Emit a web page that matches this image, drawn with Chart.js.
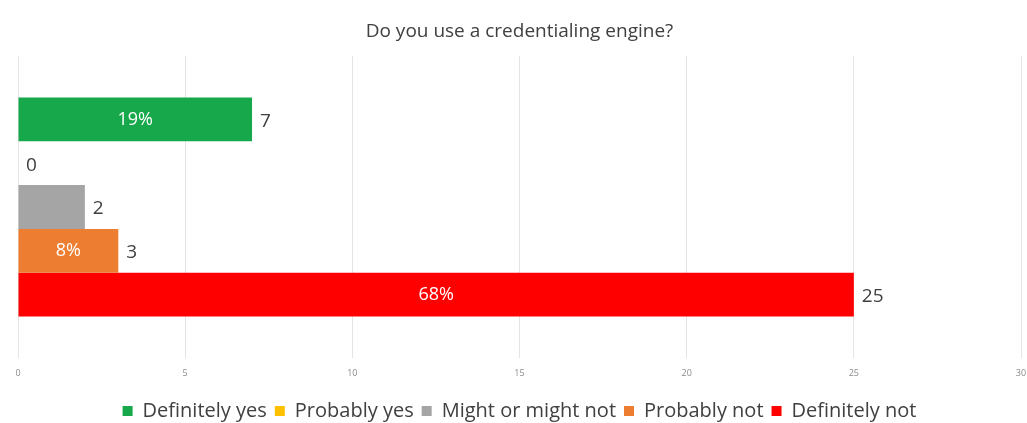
<!DOCTYPE html>
<html>
<head>
<meta charset="utf-8">
<script src="https://cdn.jsdelivr.net/npm/chart.js@4"></script>
<style>
  html, body { margin: 0; padding: 0; background: #fff; overflow: hidden; }
</style>
</head>
<body>
<canvas id="myChart" width="1027" height="423"></canvas>
<script>
// survey answers, one bar per answer
const answers = ['Definitely yes', 'Probably yes', 'Might or might not', 'Probably not', 'Definitely not']
const counts = [7, 0, 2, 3, 25]
const colors = ['#17a84b', '#ffc000', '#a5a5a5', '#ed7d31', '#ff0000']
const showPct = [true, false, false, true, true]
const xTicks = [0, 5, 10, 15, 20, 25, 30]

const total = counts.reduce((a, b) => a + b, 0)

// value after the bar end, share of total inside the bar
const barLabels = {
    id: 'barLabels',
    afterDatasetsDraw(chart) {
        const ctx = chart.ctx
        ctx.save()
        ctx.textBaseline = 'middle'
        chart.data.datasets.forEach((ds, i) => {
            const bar = chart.getDatasetMeta(i).data[0]
            const v = ds.data[0]
            ctx.font = '19px "Open Sans", sans-serif'
            ctx.fillStyle = '#404040'
            ctx.textAlign = 'left'
            ctx.fillText(String(v), bar.x + 8, bar.y + 2)
            if (showPct[i]) {
                ctx.font = '18px "Open Sans", sans-serif'
                ctx.fillStyle = '#ffffff'
                ctx.textAlign = 'center'
                ctx.fillText(Math.round(v / total * 100) + '%', (bar.x + bar.base) / 2, bar.y)
            }
        })
        ctx.restore()
    }
}

const ctx = document.getElementById('myChart')

new Chart(ctx, {
    type: 'bar',
    data: {
        labels: [''],
        datasets: answers.map((a, i) => ({
            label: a,
            data: [counts[i]],
            backgroundColor: colors[i],
            barPercentage: 1,
            categoryPercentage: 0.724
        }))
    },
    options: {
        indexAxis: 'y',
        responsive: false,
        animation: false,
        layout: { padding: { left: 18, right: 6, top: 0, bottom: -8 } },
        scales: {
            x: {
                min: 0,
                max: 30,
                afterBuildTicks(axis) { axis.ticks = xTicks.map(v => ({ value: v })) },
                // extra room between the tick labels and the legend
                afterFit(axis) { axis.height += 14 },
                // invisible tick marks keep the gap under the plot
                grid: { color: '#e4e4e4', tickLength: 10, tickColor: 'rgba(0,0,0,0)' },
                border: { display: false },
                ticks: { padding: 0, color: '#8c8c8c', font: { size: 9, family: '"Open Sans", sans-serif' } }
            },
            y: { display: false }
        },
        plugins: {
            title: {
                display: true,
                text: 'Do you use a credentialing engine?',
                color: '#404040',
                font: { size: 19, weight: 'normal', family: '"Open Sans", sans-serif' },
                padding: { top: 20, bottom: 13 }
            },
            legend: {
                position: 'bottom',
                labels: {
                    boxWidth: 10,
                    boxHeight: 10,
                    padding: 8,
                    color: '#404040',
                    font: { size: 20, family: '"Open Sans", sans-serif' }
                }
            },
            tooltip: { enabled: false }
        }
    },
    plugins: [barLabels]
})
</script>
</body>
</html>
